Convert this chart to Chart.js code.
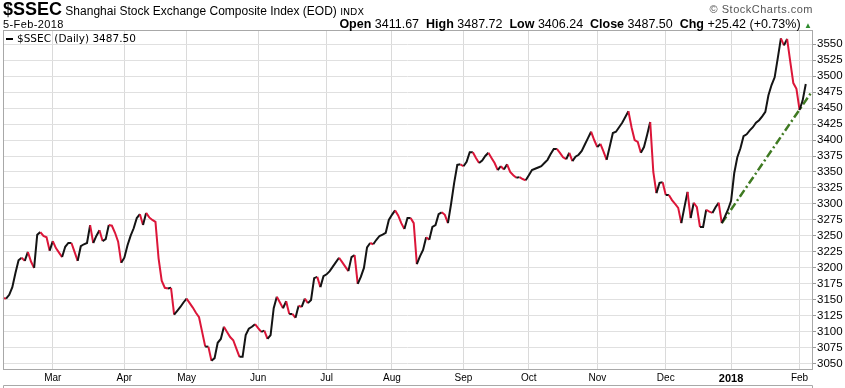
<!DOCTYPE html>
<html>
<head>
<meta charset="utf-8">
<script src="https://cdn.jsdelivr.net/npm/chart.js@4.4.1/dist/chart.umd.min.js"></script>
<style>
  body { margin: 0; background: #fff; }
  #wrap { position: relative; width: 845px; height: 388px; overflow: hidden; font-family: "Liberation Sans", Arial, sans-serif; }
  #c { position: absolute; left: 0; top: 0; }
  .txt { position: absolute; white-space: nowrap; color: #000; }
</style>
</head>
<body>
<div id="wrap">
  <canvas id="c" width="845" height="388"></canvas>
  <div class="txt" style="left:3px;top:0px;line-height:18px;font-size:12px">
    <b style="font-size:18px;font-family:'Liberation Sans Narrow','Liberation Sans',Arial">$SSEC</b> Shanghai Stock Exchange Composite Index (EOD)
    <span style="font-size:9.5px;font-family:'DejaVu Sans'">INDX</span>
  </div>
  <div class="txt" style="left:3px;top:18px;font-size:11px;letter-spacing:0.4px">5-Feb-2018</div>
  <div class="txt" style="right:32px;top:3px;font-size:11px;color:#555;letter-spacing:0.5px">&copy; StockCharts.com</div>
  <div class="txt" style="right:33px;top:17px;font-size:12.5px">
    <b>Open</b> 3411.67&nbsp; <b>High</b> 3487.72&nbsp; <b>Low</b> 3406.24&nbsp; <b>Close</b> 3487.50&nbsp; <b>Chg</b> +25.42 (+0.73%) <span style="color:#2e8b2e;font-size:8px">&#9650;</span>
  </div>
</div>
<script>
// tick labels
const monthTickLabels = ['Mar', 'Apr', 'May', 'Jun', 'Jul', 'Aug', 'Sep', 'Oct', 'Nov', 'Dec', '2018', 'Feb'];
const yTicks = [3050, 3075, 3100, 3125, 3150, 3175, 3200, 3225, 3250, 3275, 3300, 3325, 3350,
                3375, 3400, 3425, 3450, 3475, 3500, 3525, 3550];

// daily closes, 7-Feb-2017 .. 5-Feb-2018
const closes = [
  3153, 3152, 3158, 3170, 3192, 3212, 3216, 3211, 3225, 3210,
  3200, 3252, 3256, 3250, 3248, 3227, 3242, 3231, 3224, 3217,
  3233, 3239, 3239, 3225, 3211, 3234, 3237, 3239, 3267, 3239,
  3250, 3259, 3242, 3245, 3267, 3266, 3255, 3241, 3208, 3216,
  3235, 3250, 3262, 3278, 3284, 3267, 3286, 3279, 3275, 3272,
  3215, 3180, 3169, 3168, 3169, 3127, 3133, 3139, 3146, 3152,
  3145, 3138, 3130, 3123, 3100, 3077, 3077, 3055, 3059, 3083,
  3089, 3108, 3100, 3092, 3087, 3074, 3061, 3061, 3095, 3105,
  3108, 3112, 3106, 3100, 3102, 3089, 3095, 3137, 3155, 3146,
  3137, 3148, 3128, 3128, 3122, 3141, 3139, 3152, 3145, 3150,
  3184, 3186, 3170, 3187, 3190, 3195, 3202, 3209, 3216, 3209,
  3202, 3195, 3217, 3220, 3175, 3186, 3200, 3232, 3239, 3237,
  3244, 3250, 3252, 3255, 3275, 3283, 3290, 3282, 3270, 3261,
  3278, 3278, 3270, 3206, 3218, 3228, 3248, 3244, 3264, 3267,
  3284, 3287, 3283, 3270, 3300, 3333, 3361, 3362, 3359, 3366,
  3381, 3381, 3372, 3364, 3368, 3375, 3380, 3372, 3364, 3353,
  3359, 3354, 3362, 3350, 3345, 3341, 3342, 3339, 3337, 3345,
  3353, 3355, 3357, 3359, 3364, 3369, 3378, 3386, 3386, 3380,
  3373, 3370, 3380, 3367, 3374, 3377, 3383, 3393, 3403, 3413,
  3400, 3389, 3394, 3382, 3369, 3390, 3411, 3413, 3420, 3427,
  3436, 3445, 3420, 3400, 3397, 3380, 3389, 3408, 3428, 3350,
  3317, 3333, 3334, 3314, 3314, 3306, 3300, 3294, 3270, 3295,
  3319, 3278, 3302, 3295, 3264, 3264, 3291, 3288, 3286, 3295,
  3302, 3270, 3280, 3291, 3305, 3348, 3373, 3387, 3406, 3409,
  3415, 3420, 3427, 3431, 3437, 3444, 3470, 3486, 3498, 3528,
  3559, 3548, 3558, 3523, 3489, 3480, 3447, 3462, 3487.5
];

// trend line: start/end day index and value
const trendIdx = [231, 260];
const trendVals = [3270, 3476];

// trading days (weekdays, 1-Jan-2018 closed), two empty days at the end
const dates = [];
for (let d = new Date(2017, 1, 7); d <= new Date(2018, 1, 7); d.setDate(d.getDate() + 1)) {
  const wd = d.getDay();
  if (wd === 0 || wd === 6) continue;
  if (d.getFullYear() === 2018 && d.getMonth() === 0 && d.getDate() === 1) continue;
  dates.push(new Date(d));
}
const labels = dates.map(d => d.toISOString().slice(0, 10));

// first day of each month -> tick
const monthIdx = [];
for (let i = 1; i < dates.length; i++) {
  if (dates[i].getMonth() !== dates[i - 1].getMonth()) monthIdx.push(i);
}
const tickText = {};
monthIdx.forEach((idx, n) => { tickText[idx] = monthTickLabels[n]; });

const trend = labels.map(() => null);
trendIdx.forEach((idx, n) => { trend[idx] = trendVals[n]; });

const UP = '#141414', DOWN = '#dc1639';

const frame = {
  id: 'frame',
  afterDraw(chart) {
    const { ctx, chartArea: a } = chart;
    ctx.save();
    ctx.strokeStyle = '#a8a8a8';
    ctx.lineWidth = 1;
    ctx.strokeRect(a.left + 0.5, a.top + 0.5, a.right - a.left, a.bottom - a.top);
    // next panel top
    ctx.beginPath();
    ctx.moveTo(a.left + 0.5, 388);
    ctx.lineTo(a.left + 0.5, 385.5);
    ctx.lineTo(a.right + 0.5, 385.5);
    ctx.lineTo(a.right + 0.5, 388);
    ctx.stroke();
    // legend
    ctx.fillStyle = '#000';
    ctx.fillRect(a.left + 3, a.top + 8, 7, 2);
    ctx.font = '10.5px "DejaVu Sans"';
    ctx.textBaseline = 'middle';
    ctx.fillText('$SSEC (Daily) 3487.50', a.left + 14, a.top + 9);
    ctx.restore();
  }
};

new Chart(document.getElementById('c'), {
  type: 'line',
  data: {
    labels: labels,
    datasets: [
      {
        data: closes,
        borderColor: UP,
        borderWidth: 2,
        pointRadius: 0,
        tension: 0,
        segment: { borderColor: s => (s.p1.parsed.y < s.p0.parsed.y ? DOWN : UP) }
      },
      {
        data: trend,
        spanGaps: true,
        borderColor: '#3f7a22',
        borderWidth: 2.5,
        borderDash: [8, 3, 2, 3],
        pointRadius: 0
      }
    ]
  },
  options: {
    responsive: false,
    animation: false,
    layout: { padding: { left: 3, top: 30, right: 0, bottom: 0 } },
    plugins: { legend: { display: false }, tooltip: { enabled: false } },
    scales: {
      x: {
        border: { display: false },
        grid: { color: '#dadada', drawTicks: false },
        afterBuildTicks: s => { s.ticks = monthIdx.map(v => ({ value: v })); },
        afterFit: s => { s.height = 19; },
        ticks: {
          autoSkip: false,
          maxRotation: 0,
          padding: 3,
          color: '#000',
          font: c => (c.tick && c.tick.label === '2018'
            ? { family: 'Liberation Sans', size: 11, weight: 'bold' }
            : { family: 'Liberation Sans', size: 10 }),
          callback: v => tickText[v] || ''
        }
      },
      y: {
        position: 'right',
        min: 3042,
        max: 3572,
        border: { display: false },
        afterBuildTicks: s => { s.ticks = yTicks.map(v => ({ value: v })); },
        afterFit: s => { s.width = 33; },
        grid: { color: '#e0e0e0', tickLength: 4, tickColor: '#999' },
        ticks: {
          padding: 1,
          color: '#000',
          font: { family: 'Liberation Sans', size: 11.5 },
          callback: v => String(v)
        }
      }
    }
  },
  plugins: [frame]
});
</script>
</body>
</html>
